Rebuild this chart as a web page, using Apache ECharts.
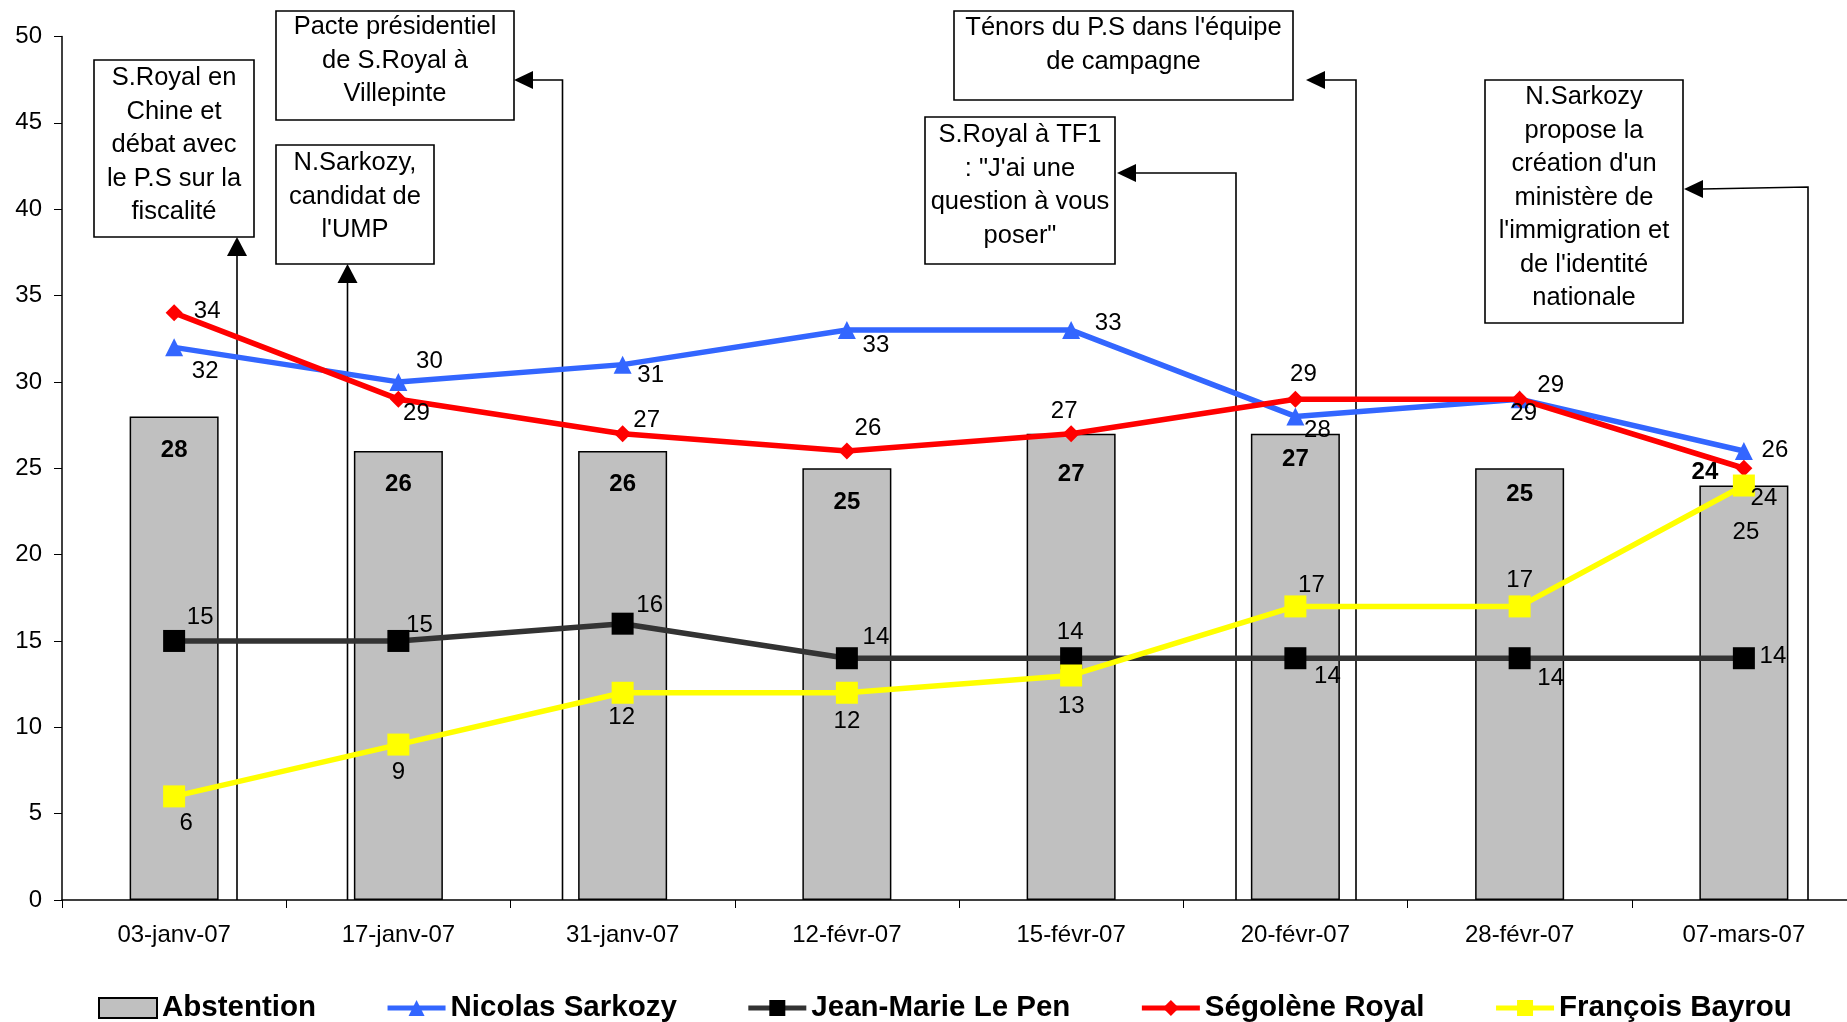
<!DOCTYPE html>
<html>
<head>
<meta charset="utf-8">
<script src="https://cdn.jsdelivr.net/npm/echarts@6/dist/echarts.min.js"></script>
<style>
html,body{margin:0;padding:0;background:#fff;}
#chart{width:1847px;height:1022px;}
</style>
</head>
<body>
<div id="chart"></div>
<script>
// ---- data ----
const categories = ['03-janv-07','17-janv-07','31-janv-07','12-févr-07','15-févr-07','20-févr-07','28-févr-07','07-mars-07'];
const abstention = [28, 26, 26, 25, 27, 27, 25, 24];
const sarkozy    = [32, 30, 31, 33, 33, 28, 29, 26];
const lepen      = [15, 15, 16, 14, 14, 14, 14, 14];
const royal      = [34, 29, 27, 26, 27, 29, 29, 25];
const bayrou     = [6, 9, 12, 12, 13, 17, 17, 24];
const yTicks = {min: 0, max: 50, interval: 5};

// ---- label placement (styles, kept separate from data) ----
const offSarkozy = [[31,24],[31,-21],[28,11],[29,15],[37,-7],[22,14],[4,14],[31,-1]];
const offRoyal   = [[33,-1],[18,14],[24,-13],[21,-23],[-7,-22],[8,-25],[31,-14],[2,64]];
const offLepen   = [[26,-24],[21,-16],[27,-18],[29,-21],[-1,-26],[32,18],[31,20],[29,-2]];
const offBayrou  = [[12,27],[0,28],[-1,25],[0,29],[0,31],[16,-21],[0,-26],[20,13]];
const barLabelPos = [[0,34],[0,33],[0,33],[0,34],[0,41],[0,26],[0,26],[-39,-13]];

const FONT = 'Liberation Sans, Arial, sans-serif';

function lineData(vals, offs){
  return vals.map((v,i)=>({value:v, label:{offset:offs[i]}}));
}
function barData(vals){
  return vals.map((v,i)=>({value:v, label:{position:['50%', barLabelPos[i][1]], offset:[barLabelPos[i][0],0]}}));
}
const lineLabel = {show:true, position:'inside', color:'#000', fontSize:24, fontFamily:FONT, align:'center', verticalAlign:'middle'};

function lineSeries(name, vals, offs, color, symbolColor, symbol, size){
  return {
    name, type:'line', data: lineData(vals, offs), symbol, symbolSize: size,
    lineStyle:{color, width:5.5}, itemStyle:{color: symbolColor},
    label: lineLabel, z:5, animation:false
  };
}

// ---- annotations ----
const LH = 33.5;
const boxes = [
  {x:94, y:60, w:160, h:177, c:78, t:'S.Royal en\nChine et\ndébat avec\nle P.S sur la\nfiscalité'},
  {x:276, y:11, w:238, h:109, c:27, t:'Pacte présidentiel\nde S.Royal à\nVillepinte'},
  {x:276, y:145, w:158, h:119, c:163, t:"N.Sarkozy,\ncandidat de\nl'UMP"},
  {x:954, y:11, w:339, h:89, c:28, t:"Ténors du P.S dans l'équipe\nde campagne"},
  {x:925, y:117, w:190, h:147, c:135, t:'S.Royal à TF1\n: "J\'ai une\nquestion à vous\nposer"'},
  {x:1485, y:80, w:198, h:243, c:97, t:"N.Sarkozy\npropose la\ncréation d'un\nministère de\nl'immigration et\nde l'identité\nnationale"}
];
const arrows = [
  {pts:[[237,900],[237,255]], head:'up', tip:[237,237]},
  {pts:[[347.5,900],[347.5,282]], head:'up', tip:[347.5,264]},
  {pts:[[562.5,900],[562.5,80],[532,80]], head:'left', tip:[514,80]},
  {pts:[[1356,900],[1356,80],[1324,80]], head:'left', tip:[1306,80]},
  {pts:[[1236,900],[1236,173],[1135,173]], head:'left', tip:[1117,173]},
  {pts:[[1808,900],[1808,187],[1702,189]], head:'left', tip:[1684,189]}
];
const graphics = [];
boxes.forEach(b=>{
  graphics.push({type:'rect', shape:{x:b.x, y:b.y, width:b.w, height:b.h},
    style:{fill:'#fff', stroke:'#000', lineWidth:1.6}, z:10});
  graphics.push({type:'text', x:b.x + b.w/2, y:b.c - LH/2, z:11,
    style:{text:b.t, font:'25.5px ' + FONT, fill:'#000', align:'center', verticalAlign:'top', lineHeight:LH}});
});
arrows.forEach(a=>{
  graphics.push({type:'polyline', shape:{points:a.pts}, style:{stroke:'#000', lineWidth:1.6, fill:null}, z:1});
  const [tx,ty] = a.tip;
  const tri = a.head==='up' ? [[tx,ty],[tx-10,ty+19],[tx+10,ty+19]] : [[tx,ty],[tx+19,ty-9],[tx+19,ty+9]];
  graphics.push({type:'polygon', shape:{points:tri}, style:{fill:'#000'}, z:1});
});

const chart = echarts.init(document.getElementById('chart'), null, {renderer:'canvas'});
chart.setOption({
  animation:false,
  backgroundColor:'#fff',
  textStyle:{fontFamily:FONT},
  grid:{left:62, top:36.5, width:1794, bottom:122, containLabel:false, outerBoundsMode:'none'},
  legend:{
    left:93, top:988, itemWidth:58, itemHeight:20, itemGap:69,
    lineStyle:{width:5},
    textStyle:{fontSize:29.5, fontWeight:'bold', color:'#000', fontFamily:FONT},
    data:[{name:'Abstention', icon:'rect'},'Nicolas Sarkozy','Jean-Marie Le Pen','Ségolène Royal','François Bayrou']
  },
  xAxis:{
    type:'category', data:categories, boundaryGap:true,
    axisLine:{lineStyle:{color:'#000', width:1.5}},
    axisTick:{show:true, length:8, lineStyle:{color:'#000'}},
    axisLabel:{color:'#000', fontSize:24, fontFamily:FONT, margin:23, interval:0},
    splitLine:{show:false}
  },
  yAxis:{
    type:'value', min:yTicks.min, max:yTicks.max, interval:yTicks.interval,
    axisLine:{show:true, lineStyle:{color:'#000', width:1.5}},
    axisTick:{show:true, length:8, lineStyle:{color:'#000'}},
    axisLabel:{color:'#000', fontSize:24, fontFamily:FONT, margin:20},
    splitLine:{show:false}
  },
  series:[
    {name:'Abstention', type:'bar', data: barData(abstention), barWidth:89,
     itemStyle:{color:'#C0C0C0', borderColor:'#000', borderWidth:1.5},
     label:{show:true, color:'#000', fontSize:24, fontWeight:'bold', fontFamily:FONT, align:'center', verticalAlign:'middle'},
     z:2},
    lineSeries('Nicolas Sarkozy', sarkozy, offSarkozy, '#3366FF', '#3366FF', 'triangle', 18),
    lineSeries('Jean-Marie Le Pen', lepen, offLepen, '#333333', '#000000', 'rect', 22),
    lineSeries('Ségolène Royal', royal, offRoyal, '#FF0000', '#FF0000', 'diamond', 17),
    lineSeries('François Bayrou', bayrou, offBayrou, '#FFFF00', '#FFFF00', 'rect', 22)
  ],
  graphic: graphics
});
</script>
</body>
</html>
